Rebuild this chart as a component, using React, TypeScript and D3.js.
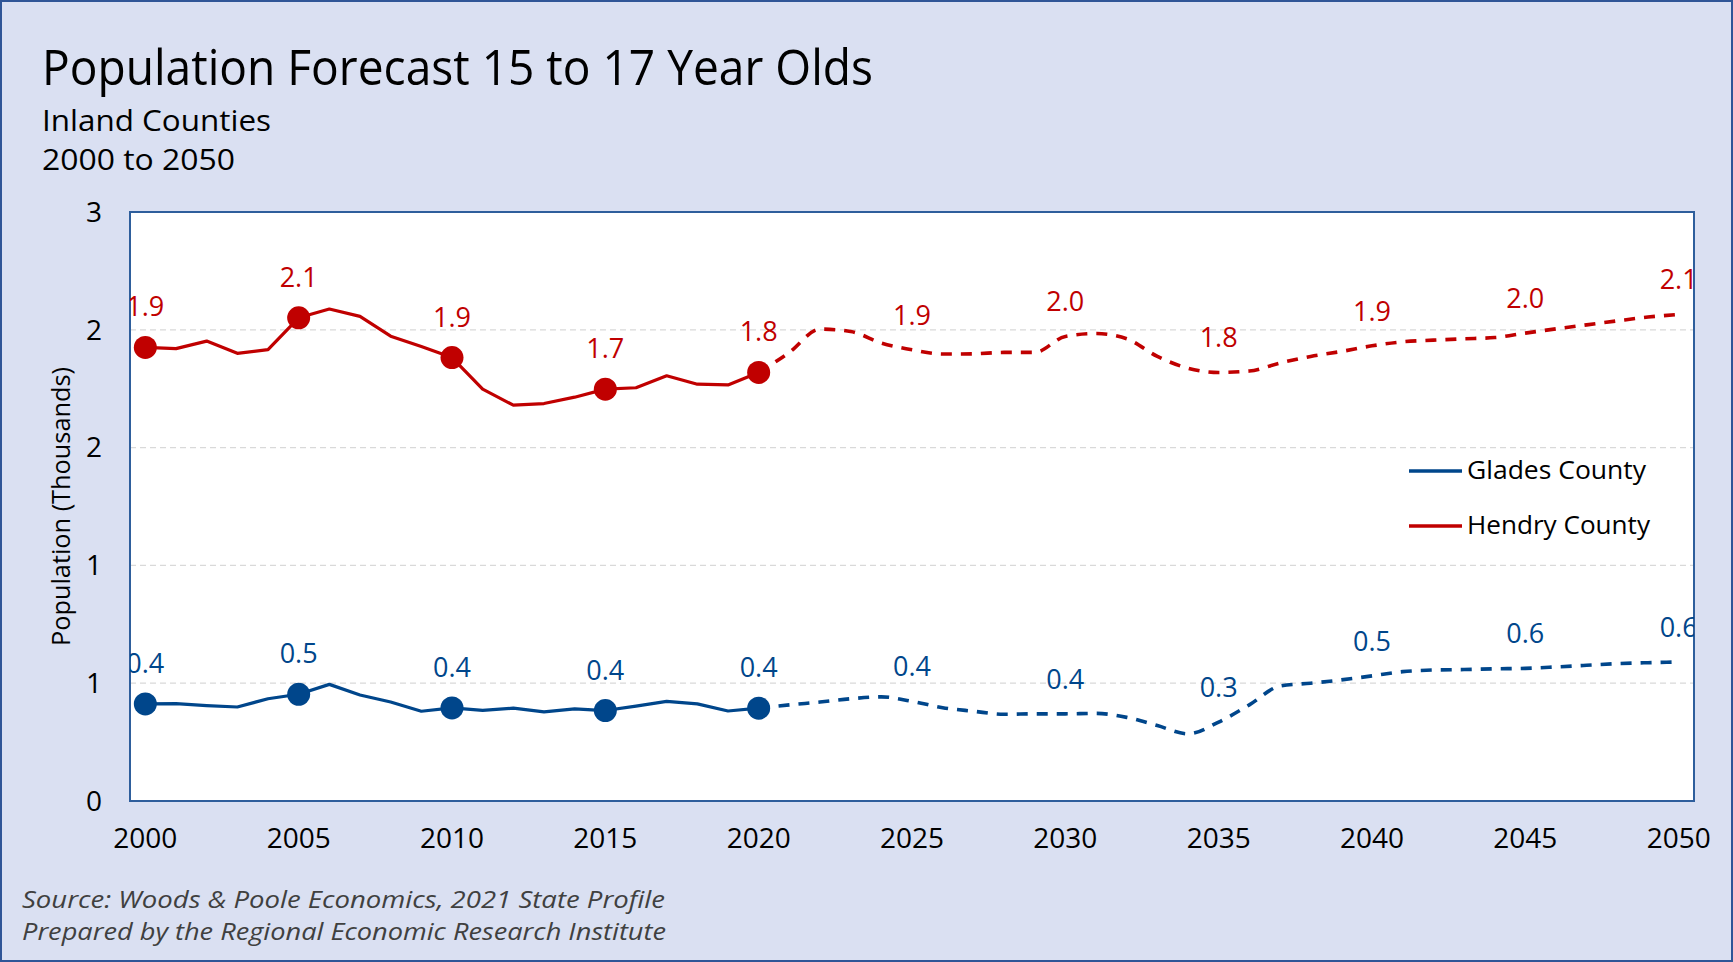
import React from "react";
import * as d3 from "d3";

const years = [
  2000, 2001, 2002, 2003, 2004, 2005, 2006, 2007, 2008, 2009,
  2010, 2011, 2012, 2013, 2014, 2015, 2016, 2017, 2018, 2019,
  2020, 2021, 2022, 2023, 2024, 2025, 2026, 2027, 2028, 2029,
  2030, 2031, 2032, 2033, 2034, 2035, 2036, 2037, 2038, 2039,
  2040, 2041, 2042, 2043, 2044, 2045, 2046, 2047, 2048, 2049, 2050,
];

const hendry = [
  1.925, 1.92, 1.952, 1.9, 1.916, 2.051, 2.088, 2.057, 1.973, 1.929,
  1.882, 1.748, 1.68, 1.687, 1.714, 1.748, 1.754, 1.805, 1.769, 1.766,
  1.819, 1.904, 2.003, 1.993, 1.944, 1.915, 1.897, 1.898, 1.904, 1.904,
  1.972, 1.984, 1.962, 1.887, 1.837, 1.819, 1.825, 1.859, 1.887, 1.908,
  1.932, 1.949, 1.956, 1.962, 1.967, 1.986, 2.004, 2.021, 2.038, 2.054, 2.065,
];

const glades = [
  0.412, 0.413, 0.405, 0.399, 0.434, 0.453, 0.495, 0.45, 0.42, 0.381,
  0.395, 0.385, 0.394, 0.378, 0.391, 0.384, 0.403, 0.423, 0.412, 0.382,
  0.394, 0.408, 0.42, 0.434, 0.442, 0.423, 0.396, 0.381, 0.368, 0.37,
  0.37, 0.372, 0.355, 0.32, 0.285, 0.335, 0.408, 0.488, 0.5, 0.514,
  0.531, 0.549, 0.556, 0.558, 0.561, 0.563, 0.569, 0.576, 0.583, 0.587, 0.59,
];

const labelYears = [2000, 2005, 2010, 2015, 2020, 2025, 2030, 2035, 2040, 2045, 2050];
const hendryLabels = ["1.9", "2.1", "1.9", "1.7", "1.8", "1.9", "2.0", "1.8", "1.9", "2.0", "2.1"];
const gladesLabels = ["0.4", "0.5", "0.4", "0.4", "0.4", "0.4", "0.4", "0.3", "0.5", "0.6", "0.6"];
const markerYears = [2000, 2005, 2010, 2015, 2020];
const forecastStart = 2020;

const yTickValues = [0, 0.5, 1, 1.5, 2, 2.5];
const yTickLabels = ["0", "1", "1", "2", "2", "3"];
const xTickYears = [2000, 2005, 2010, 2015, 2020, 2025, 2030, 2035, 2040, 2045, 2050];

const seriesNames = ["Glades County", "Hendry County"];
const RED = "#C00000";
const BLUE = "#00468B";
const FONT = "'Open Sans', 'DejaVu Sans', sans-serif";

export default function App() {
  const W = 1733, H = 962;
  const pl = 130, pr = 1694, pt = 212, pb = 801;
  const x = d3.scalePoint<number>().domain(years).range([pl, pr]).padding(0.5);
  const y = d3.scaleLinear().domain([0, 2.5]).range([pb, pt]);

  const mk = (vals: number[]) => years.map((yr, i) => ({ yr, v: vals[i] }));
  const lineStraight = d3.line<{ yr: number; v: number }>().x(d => x(d.yr)!).y(d => y(d.v));
  const lineSmooth = d3.line<{ yr: number; v: number }>().x(d => x(d.yr)!).y(d => y(d.v)).curve(d3.curveMonotoneX);

  const series = [
    { name: seriesNames[0], vals: glades, color: BLUE, labels: gladesLabels },
    { name: seriesNames[1], vals: hendry, color: RED, labels: hendryLabels },
  ];

  return (
    <svg width={W} height={H} style={{ position: "absolute", left: 0, top: 0, fontFamily: FONT }}>
      <defs>
        <clipPath id="plotClip">
          <rect x={pl} y={pt - 60} width={pr - pl} height={pb - pt + 60} />
        </clipPath>
      </defs>
      <rect x={1} y={1} width={W - 2} height={H - 2} fill="#DAE0F2" stroke="#2F5597" strokeWidth={2} />
      <text x={42} y={85} fontSize={50} textLength={831} lengthAdjust="spacingAndGlyphs" fill="#000">
        Population Forecast 15 to 17 Year Olds
      </text>
      <text x={42} y={131} fontSize={30} textLength={229} lengthAdjust="spacingAndGlyphs" fill="#000">
        Inland Counties
      </text>
      <text x={42} y={170} fontSize={30} textLength={193} lengthAdjust="spacingAndGlyphs" fill="#000">
        2000 to 2050
      </text>

      <rect x={pl} y={pt} width={pr - pl} height={pb - pt} fill="#fff" />
      {yTickValues.slice(1, -1).map(t => (
        <line key={t} x1={pl} x2={pr} y1={y(t)} y2={y(t)} stroke="#D9D9D9" strokeWidth={1.3} strokeDasharray="6,4" />
      ))}
      <rect x={pl} y={pt} width={pr - pl} height={pb - pt} fill="none" stroke="#2E5E9C" strokeWidth={2} />

      {yTickValues.map((t, i) => (
        <text key={t} x={102} y={y(t)} dy="0.35em" textAnchor="end" fontSize={28} fill="#000">
          {yTickLabels[i]}
        </text>
      ))}
      {xTickYears.map(yr => (
        <text key={yr} x={x(yr)} y={848} textAnchor="middle" fontSize={28} fill="#000">
          {yr}
        </text>
      ))}
      <text
        transform={`translate(70,${(pt + pb) / 2}) rotate(-90)`}
        textAnchor="middle"
        fontSize={26}
        textLength={279}
        lengthAdjust="spacingAndGlyphs"
        fill="#000"
      >
        Population (Thousands)
      </text>

      {series.map(s => {
        const pts = mk(s.vals);
        const hist = pts.filter(d => d.yr <= forecastStart);
        const fc = pts.filter(d => d.yr >= forecastStart);
        return (
          <g key={s.name}>
            <path d={lineStraight(hist)!} fill="none" stroke={s.color} strokeWidth={3.2} strokeLinejoin="round" />
            <path d={lineSmooth(fc)!} fill="none" stroke={s.color} strokeWidth={3.6} strokeDasharray="11,9" />
            {pts.filter(d => markerYears.includes(d.yr)).map(d => (
              <circle key={d.yr} cx={x(d.yr)} cy={y(d.v)} r={11.5} fill={s.color} />
            ))}
            <g clipPath="url(#plotClip)">
              {labelYears.map((yr, i) => {
                const v = s.vals[years.indexOf(yr)];
                const off = markerYears.includes(yr) ? 31 : 25;
                return (
                  <text key={yr} x={x(yr)} y={y(v) - off} textAnchor="middle" fontSize={27} fill={s.color}>
                    {s.labels[i]}
                  </text>
                );
              })}
            </g>
          </g>
        );
      })}

      {series.map((s, i) => (
        <g key={s.name} transform={`translate(0,${471 + i * 55})`}>
          <line x1={1409} x2={1462} y1={0} y2={0} stroke={s.color} strokeWidth={3.5} />
          <text x={1467} y={8} fontSize={26} textLength={i === 0 ? 179 : 183} lengthAdjust="spacingAndGlyphs" fill="#000">
            {s.name}
          </text>
        </g>
      ))}

      <text x={22} y={908} fontSize={24} fontStyle="italic" textLength={643} lengthAdjust="spacingAndGlyphs" fill="#404040">
        Source: Woods &amp; Poole Economics, 2021 State Profile
      </text>
      <text x={22} y={940} fontSize={24} fontStyle="italic" textLength={644} lengthAdjust="spacingAndGlyphs" fill="#404040">
        Prepared by the Regional Economic Research Institute
      </text>
    </svg>
  );
}
